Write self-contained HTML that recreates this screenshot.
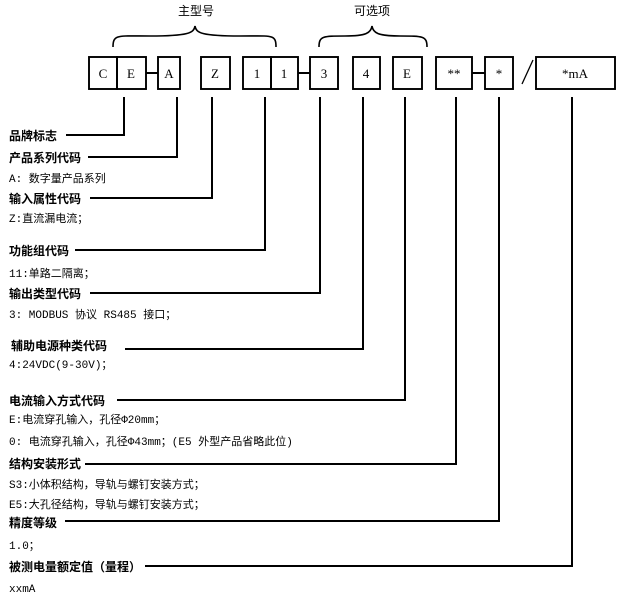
<!DOCTYPE html>
<html><head><meta charset="utf-8"><style>
html,body{margin:0;padding:0;background:#fff;}
svg{display:block;}
text{font-family:"Liberation Serif","Noto Sans CJK SC",serif;fill:#000;}
.h{font-family:"Liberation Sans","Noto Sans CJK SC",sans-serif;font-weight:bold;font-size:12px;}
.t{font-family:"Liberation Mono","Noto Sans CJK SC",monospace;font-size:11px;}
.b{font-size:13px;text-anchor:middle;}
</style></head><body>
<svg width="631" height="601" viewBox="0 0 631 601" xmlns="http://www.w3.org/2000/svg">
<g fill="none" stroke="#000" stroke-width="1.6">
<path d="M113,47 C113,34 118,36 150,36 C188,36 194,33 195,26 C196,33 202,36 240,36 C272,36 276,34 276,47"/>
<path d="M319,47 C319,36 323,36 345,36 C366,36 371,33 372,26 C373,33 378,36 400,36 C423,36 427,36 427,47"/>
</g>
<g fill="none" stroke="#000" stroke-width="1.9">
<rect x="89" y="57" width="28" height="32"/>
<rect x="117" y="57" width="29" height="32"/>
<rect x="158" y="57" width="22" height="32"/>
<rect x="201" y="57" width="29" height="32"/>
<rect x="243" y="57" width="28" height="32"/>
<rect x="271" y="57" width="27" height="32"/>
<rect x="310" y="57" width="28" height="32"/>
<rect x="353" y="57" width="27" height="32"/>
<rect x="393" y="57" width="29" height="32"/>
<rect x="436" y="57" width="36" height="32"/>
<rect x="485" y="57" width="28" height="32"/>
<rect x="536" y="57" width="79" height="32"/>
<path d="M146,73H158M298,73H310M472,73H485"/>
<path d="M533,60L522,84" stroke-width="1.3"/>
</g>
<g fill="none" stroke="#000" stroke-width="2">
<path d="M124,97V135H66"/>
<path d="M177,97V157H88"/>
<path d="M212,97V198H90"/>
<path d="M265,97V250H75"/>
<path d="M320,97V293H90"/>
<path d="M363,97V349H125"/>
<path d="M405,97V400H117"/>
<path d="M456,97V464H85"/>
<path d="M499,97V521H65"/>
<path d="M572,97V566H145"/>
</g>
<text x="196" y="15" style="font-family:'Liberation Sans','Noto Sans CJK SC',sans-serif;font-size:12px" text-anchor="middle">主型号</text>
<text x="372" y="15" style="font-family:'Liberation Sans','Noto Sans CJK SC',sans-serif;font-size:12px" text-anchor="middle">可选项</text>
<text class="b" x="103" y="78">C</text><text class="b" x="131" y="78">E</text>
<text class="b" x="169" y="78">A</text><text class="b" x="215" y="78">Z</text>
<text class="b" x="257" y="78">1</text><text class="b" x="284" y="78">1</text>
<text class="b" x="324" y="78">3</text><text class="b" x="366" y="78">4</text>
<text class="b" x="407" y="78">E</text><text class="b" x="454" y="78">**</text>
<text class="b" x="499" y="78">*</text><text class="b" x="575" y="78">*mA</text>
<text class="h" x="9" y="140">品牌标志</text>
<text class="h" x="9" y="162">产品系列代码</text>
<text class="t" x="9" y="182">A: 数字量产品系列</text>
<text class="h" x="9" y="203">输入属性代码</text>
<text class="t" x="9" y="222">Z:直流漏电流；</text>
<text class="h" x="9" y="255">功能组代码</text>
<text class="t" x="9" y="277">11:单路二隔离；</text>
<text class="h" x="9" y="298">输出类型代码</text>
<text class="t" x="9" y="318">3: MODBUS 协议 RS485 接口；</text>
<text class="h" x="11" y="350">辅助电源种类代码</text>
<text class="t" x="9" y="368">4:24VDC(9-30V)；</text>
<text class="h" x="9" y="405">电流输入方式代码</text>
<text class="t" x="9" y="423">E:电流穿孔输入，孔径Φ20mm；</text>
<text class="t" x="9" y="445">0: 电流穿孔输入，孔径Φ43mm；(E5 外型产品省略此位)</text>
<text class="h" x="9" y="468">结构安装形式</text>
<text class="t" x="9" y="488">S3:小体积结构，导轨与螺钉安装方式；</text>
<text class="t" x="9" y="508">E5:大孔径结构，导轨与螺钉安装方式；</text>
<text class="h" x="9" y="527">精度等级</text>
<text class="t" x="9" y="549">1.0；</text>
<text class="h" x="9" y="571">被测电量额定值（量程）</text>
<text class="t" x="9" y="592">xxmA</text>
</svg>
</body></html>
